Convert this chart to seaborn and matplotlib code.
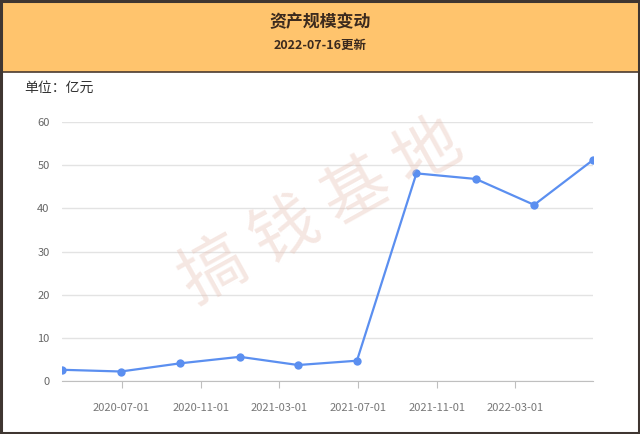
import seaborn as sns
import pandas as pd
import matplotlib.dates as mdates
from matplotlib import pyplot as plt
from matplotlib.patches import Rectangle

# quarterly asset size, 100M CNY
dates = ["2020-03-31", "2020-06-30", "2020-09-30", "2020-12-31", "2021-03-31",
         "2021-06-30", "2021-09-30", "2021-12-31", "2022-03-31", "2022-06-30"]
assets = [2.6, 2.2, 4.1, 5.6, 3.7, 4.7, 48.1, 46.8, 40.8, 51.2]
tick_dates = ["2020-07-01", "2020-11-01", "2021-03-01", "2021-07-01",
              "2021-11-01", "2022-03-01"]
y_ticks = [0, 10, 20, 30, 40, 50, 60]

title = "资产规模变动"
subtitle = "2022-07-16更新"
unit = "单位：亿元"
watermark = "搞钱基地"

df = pd.DataFrame({"date": pd.to_datetime(dates), "assets": assets})

sns.set_style("white")
plt.rcParams['font.family'] = ['Noto Sans CJK SC', 'DejaVu Sans']

fig = plt.figure(figsize=(6.4, 4.34), dpi=100)
fig.patch.set_facecolor("white")

# header band and outer frame
fig.patches.append(Rectangle((0, 1 - 72 / 434), 1, 72 / 434, transform=fig.transFigure,
                             facecolor="#FFC46D", edgecolor="none", zorder=0))
fig.add_artist(plt.Line2D([0, 1], [1 - 72 / 434] * 2, transform=fig.transFigure,
                          color="#4a3b30", lw=1.2))
fig.patches.append(Rectangle((0.0015, 0.002), 0.997, 0.996, transform=fig.transFigure,
                             facecolor="none", edgecolor="#3f3631", lw=2.2, zorder=10))

fig.text(0.5, 1 - 22 / 434, title, ha="center", va="center", fontsize=12.2,
         fontweight="bold", color="#3b2a1e")
fig.text(0.5, 1 - 45 / 434, subtitle, ha="center", va="center", fontsize=9,
         fontweight="bold", color="#3b2a1e")
fig.text(24 / 640, 1 - 88 / 434, unit, ha="left", va="center", fontsize=10,
         color="#333333")

# watermark
fig.text(322 / 640, 1 - 213 / 434, " ".join(watermark), ha="center", va="center",
         fontsize=48, fontweight="medium", rotation=29, color="#e8c4b8", alpha=0.4,
         zorder=0)

ax = fig.add_axes([62 / 640, 1 - 381 / 434, 531 / 640, 259 / 434])
ax.patch.set_alpha(0)
sns.lineplot(data=df, x="date", y="assets", ax=ax, color="#5B8FF0", lw=1.6,
             marker="o", markersize=6, markeredgewidth=0)

ax.set_xlim(df["date"].min(), df["date"].max())
ax.set_ylim(0, 60)
ax.set_yticks(y_ticks)
ax.set_xticks(pd.to_datetime(tick_dates))
ax.xaxis.set_major_formatter(mdates.DateFormatter("%Y-%m-%d"))
ax.grid(axis="y", color="#e3e3e3", lw=1)
ax.set_xlabel("")
ax.set_ylabel("")
for s in ["top", "right", "left"]:
    ax.spines[s].set_visible(False)
ax.spines["bottom"].set_color("#bfbfbf")
ax.tick_params(axis="x", length=5, color="#bfbfbf", pad=11, labelsize=8,
               labelcolor="#777777", bottom=True)
ax.tick_params(axis="y", length=0, pad=9, labelsize=8, labelcolor="#666666")

plt.savefig("out.png", dpi=100)
